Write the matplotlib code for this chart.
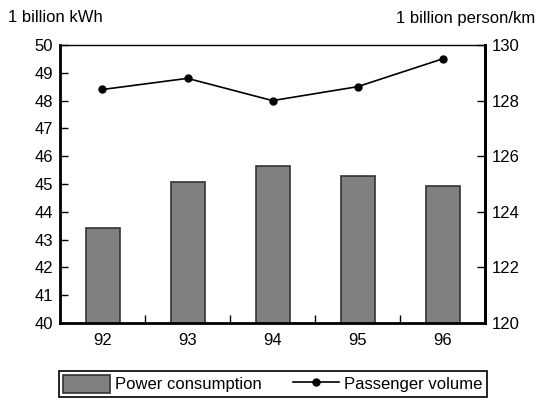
import matplotlib
matplotlib.use("Agg")
import matplotlib.pyplot as plt
import numpy as np

# data
years = ["92", "93", "94", "95", "96"]
power = [43.43, 45.06, 45.65, 45.28, 44.94]  # 1 billion kWh
passenger = [128.4, 128.8, 128.0, 128.5, 129.5]  # 1 billion person/km

plt.rcParams['font.family'] = ['Liberation Sans Narrow', 'Liberation Sans', 'DejaVu Sans']
plt.rcParams['font.size'] = 12

fig = plt.figure(figsize=(5.37, 4.0), dpi=100)
ax = fig.add_axes([60/537, 1-323/400, 425/537, 278/400])
x = np.arange(len(years))

bars = ax.bar(x, power, width=0.4, color='#808080', edgecolor='#333333', linewidth=1.2,
              label='Power consumption')
ax.set_ylim(40, 50)
ax.set_yticks(np.arange(40, 51, 1))
ax.set_xlim(-0.5, len(years) - 0.5)
ax.set_xticks(x)
ax.set_xticklabels(years)
ax.set_xticks(np.arange(0.5, len(years) - 0.5, 1), minor=True)
ax.tick_params(axis='x', which='major', length=0, pad=7)
ax.tick_params(axis='x', which='minor', direction='in', length=6, width=1)
ax.tick_params(axis='y', direction='in', length=6, width=1, pad=5)
ax.spines['left'].set_linewidth(2)
ax.spines['bottom'].set_linewidth(2)
ax.spines['top'].set_linewidth(1)
ax.spines['right'].set_linewidth(2)

ax2 = ax.twinx()
line, = ax2.plot(x, passenger, color='black', marker='o', markersize=5, linewidth=1.2,
                 label='Passenger volume')
ax2.set_ylim(120, 130)
ax2.set_yticks(np.arange(120, 131, 2))
ax2.tick_params(axis='y', direction='in', length=6, width=1, pad=5)
ax2.spines['right'].set_linewidth(2)
for s in ['left', 'top', 'bottom']:
    ax2.spines[s].set_visible(False)

fig.text(8/537, 1-18/400, "1 billion kWh", ha='left', va='center')
fig.text(535/537, 1-18/400, "1 billion person/km", ha='right', va='center')

leg = fig.legend([bars, line], ['Power consumption', 'Passenger volume'],
                 loc='lower left', bbox_to_anchor=(59/537, 1-397/400, 428/537, 29/400),
                 mode='expand', ncol=2,
                 frameon=True, fancybox=False, edgecolor='black', framealpha=1,
                 borderpad=0.25, handlelength=2.8, handleheight=1.3,
                 columnspacing=1.5, handletextpad=0.3, borderaxespad=0)
leg.get_frame().set_linewidth(1.2)

fig.savefig("out.png", dpi=100)
